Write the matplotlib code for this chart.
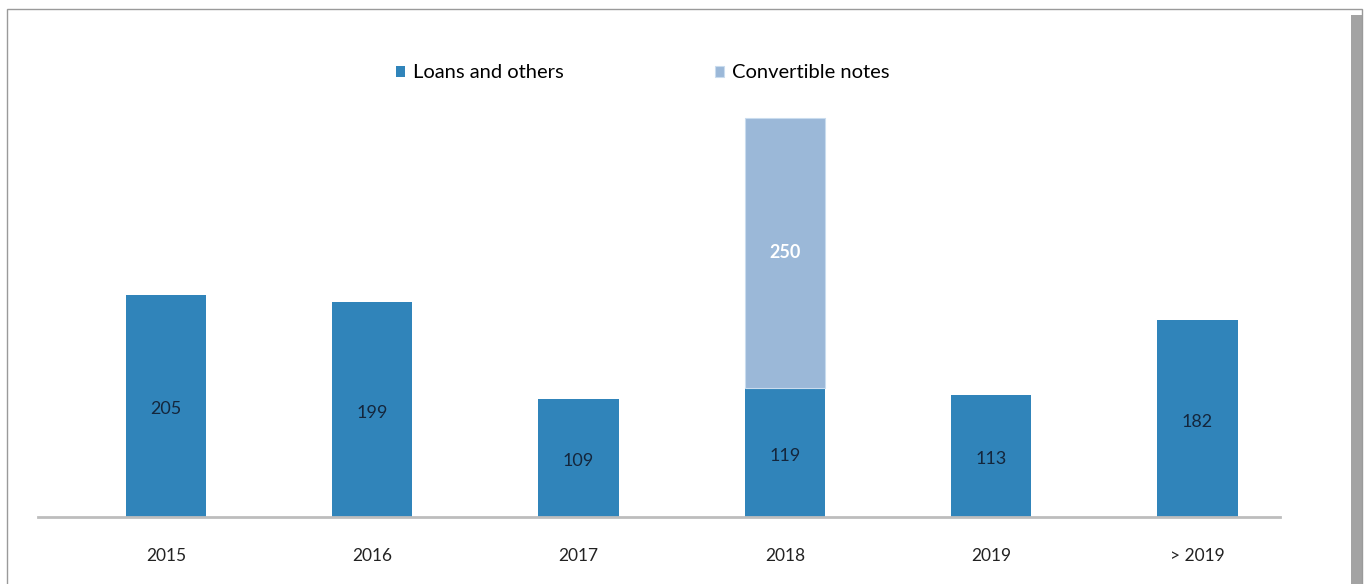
import matplotlib.pyplot as plt
from matplotlib.patches import Rectangle

years = ['2015', '2016', '2017', '2018', '2019', '> 2019']
loans = [205, 199, 109, 119, 113, 182]
convertible = [0, 0, 0, 250, 0, 0]

dark_blue = '#3084BA'
light_blue = '#9BB8D8'

plt.rcParams['font.family'] = ['Lato', 'DejaVu Sans']

fig = plt.figure(figsize=(13.67, 5.84), dpi=100)
fig.patch.set_facecolor('white')

# frame with a grey shadow on the right side
fig.patches.append(Rectangle((1351 / 1367, 0), 11 / 1367, 1 - 15 / 584,
                             transform=fig.transFigure, facecolor='#A3A3A3',
                             edgecolor='none', zorder=0))
fig.patches.append(Rectangle((7 / 1367, -0.01), 1355 / 1367, 1 - 9 / 584 + 0.01,
                             transform=fig.transFigure, facecolor='none',
                             edgecolor='#9A9A9A', linewidth=1.0, zorder=1))

ax = fig.add_axes([38 / 1367, 67 / 584, 1242 / 1367, 433 / 584])
ax.set_facecolor('none')

x = list(range(len(years)))
b1 = ax.bar(x, loans, width=0.39, color=dark_blue, label='Loans and others')
conv_x = [i for i, v in enumerate(convertible) if v > 0]
b2 = ax.bar(conv_x, [convertible[i] for i in conv_x], width=0.39,
            bottom=[loans[i] for i in conv_x], color=light_blue,
            edgecolor='#C9DCEE', linewidth=0.8, label='Convertible notes')

for i, v in enumerate(loans):
    ax.text(i, v / 2 - 3, str(v), ha='center', va='center',
            fontsize=13, color='#14263C')
for i in conv_x:
    ax.text(i, loans[i] + convertible[i] / 2, str(convertible[i]),
            ha='center', va='center', fontsize=13, color='white', fontweight='bold')

ax.set_xlim(-0.62, 5.40)
ax.set_ylim(0, 400)
ax.set_xticks(x)
ax.set_xticklabels(years, fontsize=12.5, color='#222222')
ax.tick_params(axis='x', length=0, pad=22)
ax.set_yticks([])
for s in ['top', 'right', 'left']:
    ax.spines[s].set_visible(False)
ax.spines['bottom'].set_color('#BDBDBD')
ax.spines['bottom'].set_linewidth(2)

fig.legend(handles=[b1, b2], loc='center', bbox_to_anchor=(643 / 1367, 1 - 73 / 584),
           ncol=2, frameon=False, fontsize=14.5, handlelength=0.45, handleheight=0.45,
           handletextpad=0.4, columnspacing=7.5)

fig.savefig('out.png', dpi=100)
